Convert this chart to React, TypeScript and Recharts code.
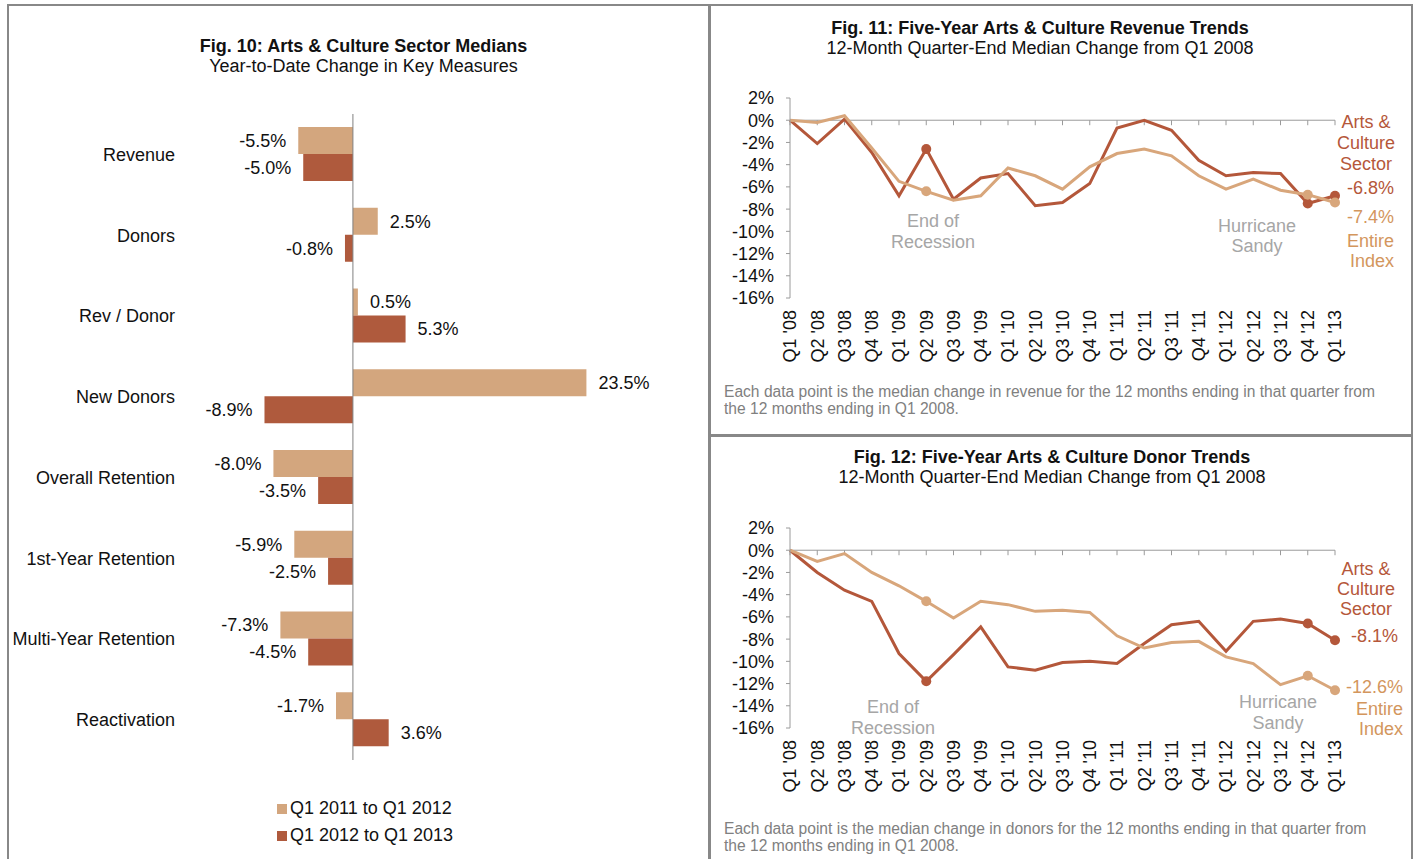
import React from "react";
import { Bar, BarChart, LabelList, Line, LineChart, ReferenceLine, XAxis, YAxis } from "recharts";

// Fig. 10 - year-to-date change in key measures
const measures = [
  "Revenue",
  "Donors",
  "Rev / Donor",
  "New Donors",
  "Overall Retention",
  "1st-Year Retention",
  "Multi-Year Retention",
  "Reactivation",
];
const change2011to2012 = [-5.5, 2.5, 0.5, 23.5, -8.0, -5.9, -7.3, -1.7];
const change2012to2013 = [-5.0, -0.8, 5.3, -8.9, -3.5, -2.5, -4.5, 3.6];
const barSeriesNames = ["Q1 2011 to Q1 2012", "Q1 2012 to Q1 2013"];

// Fig. 11 / 12 - five-year trends
const quarters = [
  "Q1 '08", "Q2 '08", "Q3 '08", "Q4 '08",
  "Q1 '09", "Q2 '09", "Q3 '09", "Q4 '09",
  "Q1 '10", "Q2 '10", "Q3 '10", "Q4 '10",
  "Q1 '11", "Q2 '11", "Q3 '11", "Q4 '11",
  "Q1 '12", "Q2 '12", "Q3 '12", "Q4 '12",
  "Q1 '13",
];
const revenueSector = [0, -2.1, 0.1, -2.9, -6.8, -2.6, -7.1, -5.2, -4.8, -7.7, -7.4, -5.7, -0.7, 0.0, -0.9, -3.6, -5.0, -4.7, -4.8, -7.5, -6.8];
const revenueIndex = [0, -0.2, 0.4, -2.5, -5.5, -6.4, -7.2, -6.8, -4.3, -5.0, -6.2, -4.2, -3.0, -2.6, -3.2, -5.0, -6.2, -5.3, -6.3, -6.7, -7.4];
const donorSector = [0, -2.0, -3.6, -4.6, -9.3, -11.8, -9.4, -6.9, -10.5, -10.8, -10.1, -10.0, -10.2, -8.4, -6.7, -6.4, -9.1, -6.4, -6.2, -6.6, -8.1];
const donorIndex = [0, -1.0, -0.3, -2.0, -3.2, -4.6, -6.1, -4.6, -4.9, -5.5, -5.4, -5.6, -7.7, -8.8, -8.3, -8.2, -9.6, -10.2, -12.1, -11.3, -12.6];
const markedQuarters = ["Q2 '09", "Q4 '12", "Q1 '13"];
const trendTicks = [2, 0, -2, -4, -6, -8, -10, -12, -14, -16];

const FONT = '"Liberation Sans", Arial, sans-serif';
const FS = 18;
const colors = {
  lightBar: "#D3A67E",
  darkBar: "#AF5A3D",
  sectorLine: "#B4573A",
  indexLine: "#D8A67B",
  sectorText: "#B5573A",
  indexText: "#D3965D",
  note: "#A6A6A6",
  footnote: "#808080",
  axis: "#9A9A9A",
  border: "#888888",
};

const pct = (v: number) => `${v.toFixed(1)}%`;

function BarValueLabel(props: any) {
  const { x, y, width, height, value } = props;
  const left = Math.min(x, x + width);
  const right = Math.max(x, x + width);
  const negative = value < 0;
  return (
    <text
      x={negative ? left - 12 : right + 12}
      y={y + height / 2}
      dy="0.35em"
      textAnchor={negative ? "end" : "start"}
      fontSize={FS}
      fontFamily={FONT}
      fill="#111"
    >
      {pct(value)}
    </text>
  );
}

function SectorMedians() {
  const data = measures.map((m, i) => ({
    measure: m,
    prior: change2011to2012[i],
    current: change2012to2013[i],
  }));
  return (
    <div style={{ position: "absolute", left: 0, top: 0, width: 710, height: 859 }}>
      <div style={{ position: "absolute", left: 0, width: 727, top: 36, textAlign: "center", fontSize: FS, lineHeight: "20px" }}>
        <div style={{ fontWeight: "bold" }}>Fig. 10: Arts &amp; Culture Sector Medians</div>
        <div>Year-to-Date Change in Key Measures</div>
      </div>
      <BarChart
        width={710}
        height={859}
        data={data}
        layout="vertical"
        margin={{ top: 114, right: 59, bottom: 99, left: 0 }}
        barSize={27}
        barGap={0}
      >
        <XAxis type="number" domain={[-17, 30]} hide />
        <YAxis
          type="category"
          dataKey="measure"
          width={184}
          axisLine={false}
          tickLine={false}
          tickSize={0}
          tickMargin={9}
          tick={{ fontSize: FS, fontFamily: FONT, fill: "#111" }}
          interval={0}
        />
        <ReferenceLine x={0} stroke="#808080" strokeWidth={1} />
        <Bar dataKey="prior" fill={colors.lightBar} isAnimationActive={false}>
          <LabelList dataKey="prior" content={BarValueLabel} />
        </Bar>
        <Bar dataKey="current" fill={colors.darkBar} isAnimationActive={false}>
          <LabelList dataKey="current" content={BarValueLabel} />
        </Bar>
      </BarChart>
      <div style={{ position: "absolute", left: 277, top: 795, fontSize: FS, lineHeight: "27px", color: "#111" }}>
        {barSeriesNames.map((name, i) => (
          <div key={name} style={{ display: "flex", alignItems: "center" }}>
            <span style={{ width: 10, height: 10, marginRight: 3, background: i === 0 ? colors.lightBar : colors.darkBar }} />
            {name}
          </div>
        ))}
      </div>
    </div>
  );
}

function QuarterTick(props: any) {
  const { x, y, payload } = props;
  return (
    <text
      x={x}
      y={y}
      dy="0.36em"
      transform={`rotate(-90, ${x}, ${y})`}
      textAnchor="end"
      fontSize={FS}
      fontFamily={FONT}
      fill="#111"
    >
      {payload.value}
    </text>
  );
}

function markerDot(color: string) {
  return (p: any) =>
    markedQuarters.includes(p.payload.quarter) ? (
      <circle key={`d-${p.index}`} cx={p.cx} cy={p.cy} r={5} fill={color} />
    ) : (
      <g key={`d-${p.index}`} />
    );
}

type Note = { lines: string[]; x: number; y: number; color: string; align: "center" | "right"; lh?: number };

function TrendPanel({
  top,
  title,
  subtitle,
  titleCenter,
  sector,
  index,
  notes,
  footnote,
  footTop,
}: {
  top: number;
  title: string;
  subtitle: string;
  titleCenter: number;
  sector: number[];
  index: number[];
  notes: Note[];
  footnote: string[];
  footTop: number;
}) {
  const data = quarters.map((q, i) => ({ quarter: q, sector: sector[i], index: index[i] }));
  return (
    <div style={{ position: "absolute", left: 710, top, width: 703, height: 430 }}>
      <div
        style={{
          position: "absolute",
          left: titleCenter - 710 - 300,
          width: 600,
          top: top === 0 ? 18 : 17,
          textAlign: "center",
          fontSize: FS,
          lineHeight: "20px",
        }}
      >
        <div style={{ fontWeight: "bold" }}>{title}</div>
        <div>{subtitle}</div>
      </div>
      <LineChart width={703} height={430} data={data} margin={{ top: 98, right: 78, bottom: 72, left: 0 }}>
        <XAxis
          dataKey="quarter"
          axisLine={false}
          tickLine={false}
          tickSize={0}
          tickMargin={12}
          height={60}
          interval={0}
          tick={<QuarterTick />}
        />
        <YAxis
          domain={[-16, 2]}
          ticks={trendTicks}
          width={80}
          interval={0}
          tickFormatter={(v) => `${v}%`}
          stroke={colors.axis}
          tickSize={4}
          tickMargin={12}
          tick={{ fontSize: FS, fontFamily: FONT, fill: "#111" }}
        />
        <ReferenceLine y={0} stroke={colors.axis} />
        {quarters.map((q) => (
          <ReferenceLine
            key={q}
            segment={[
              { x: q, y: 0 },
              { x: q, y: -0.45 },
            ]}
            stroke={colors.axis}
          />
        ))}
        <Line
          dataKey="sector"
          stroke={colors.sectorLine}
          strokeWidth={3}
          dot={markerDot(colors.sectorLine)}
          activeDot={false}
          isAnimationActive={false}
          type="linear"
        />
        <Line
          dataKey="index"
          stroke={colors.indexLine}
          strokeWidth={3}
          dot={markerDot(colors.indexLine)}
          activeDot={false}
          isAnimationActive={false}
          type="linear"
        />
      </LineChart>
      {notes.map((n, i) => {
        const lh = n.lh ?? 21;
        const style: React.CSSProperties = {
          position: "absolute",
          top: n.y - top - lh / 2,
          fontSize: FS,
          lineHeight: `${lh}px`,
          color: n.color,
          whiteSpace: "nowrap",
        };
        if (n.align === "center") {
          style.left = n.x - 710 - 100;
          style.width = 200;
          style.textAlign = "center";
        } else {
          style.right = 703 - (n.x - 710);
          style.textAlign = "right";
        }
        return (
          <div key={i} style={style}>
            {n.lines.map((l) => (
              <div key={l}>{l}</div>
            ))}
          </div>
        );
      })}
      <div style={{ position: "absolute", left: 14, top: footTop - top, fontSize: 15.6, lineHeight: "17px", color: colors.footnote, whiteSpace: "nowrap" }}>
        {footnote.map((l) => (
          <div key={l}>{l}</div>
        ))}
      </div>
    </div>
  );
}

export default function App() {
  const last = (arr: number[]) => arr[arr.length - 1];
  return (
    <div
      style={{
        position: "absolute",
        left: 0,
        top: 0,
        width: 1415,
        height: 859,
        overflow: "hidden",
        background: "#fff",
        fontFamily: FONT,
        color: "#111",
      }}
    >
      <SectorMedians />
      <TrendPanel
        top={0}
        title="Fig. 11: Five-Year Arts & Culture Revenue Trends"
        subtitle="12-Month Quarter-End Median Change from Q1 2008"
        titleCenter={1040}
        sector={revenueSector}
        index={revenueIndex}
        footTop={383}
        notes={[
          { lines: ["End of", "Recession"], x: 933, y: 221, color: colors.note, align: "center" },
          { lines: ["Hurricane", "Sandy"], x: 1257, y: 226, color: colors.note, align: "center", lh: 20 },
          { lines: ["Arts &", "Culture", "Sector"], x: 1366, y: 122, color: colors.sectorText, align: "center" },
          { lines: [pct(last(revenueSector))], x: 1394, y: 188, color: colors.sectorText, align: "right" },
          { lines: [pct(last(revenueIndex))], x: 1394, y: 217, color: colors.indexText, align: "right" },
          { lines: ["Entire", "Index"], x: 1394, y: 241, color: colors.indexText, align: "right", lh: 20 },
        ]}
        footnote={[
          "Each data point is the median change in revenue for the 12 months ending in that quarter from",
          "the 12 months ending in Q1 2008.",
        ]}
      />
      <TrendPanel
        top={430}
        title="Fig. 12: Five-Year Arts & Culture Donor Trends"
        subtitle="12-Month Quarter-End Median Change from Q1 2008"
        titleCenter={1052}
        sector={donorSector}
        index={donorIndex}
        footTop={820}
        notes={[
          { lines: ["End of", "Recession"], x: 893, y: 707, color: colors.note, align: "center" },
          { lines: ["Hurricane", "Sandy"], x: 1278, y: 702, color: colors.note, align: "center" },
          { lines: ["Arts &", "Culture", "Sector"], x: 1366, y: 569, color: colors.sectorText, align: "center", lh: 20 },
          { lines: [pct(last(donorSector))], x: 1398, y: 636, color: colors.sectorText, align: "right" },
          { lines: [pct(last(donorIndex))], x: 1403, y: 687, color: colors.indexText, align: "right" },
          { lines: ["Entire", "Index"], x: 1403, y: 709, color: colors.indexText, align: "right", lh: 20 },
        ]}
        footnote={[
          "Each data point is the median change in donors for the 12 months ending in that quarter from",
          "the 12 months ending in Q1 2008.",
        ]}
      />
      {/* panel frames */}
      <div style={{ position: "absolute", left: 7, top: 4, width: 1406, height: 2, background: colors.border }} />
      <div style={{ position: "absolute", left: 7, top: 4, width: 2, height: 860, background: colors.border }} />
      <div style={{ position: "absolute", left: 708, top: 4, width: 3, height: 860, background: colors.border }} />
      <div style={{ position: "absolute", left: 1411, top: 4, width: 2, height: 860, background: colors.border }} />
      <div style={{ position: "absolute", left: 708, top: 434, width: 705, height: 3, background: colors.border }} />
    </div>
  );
}
